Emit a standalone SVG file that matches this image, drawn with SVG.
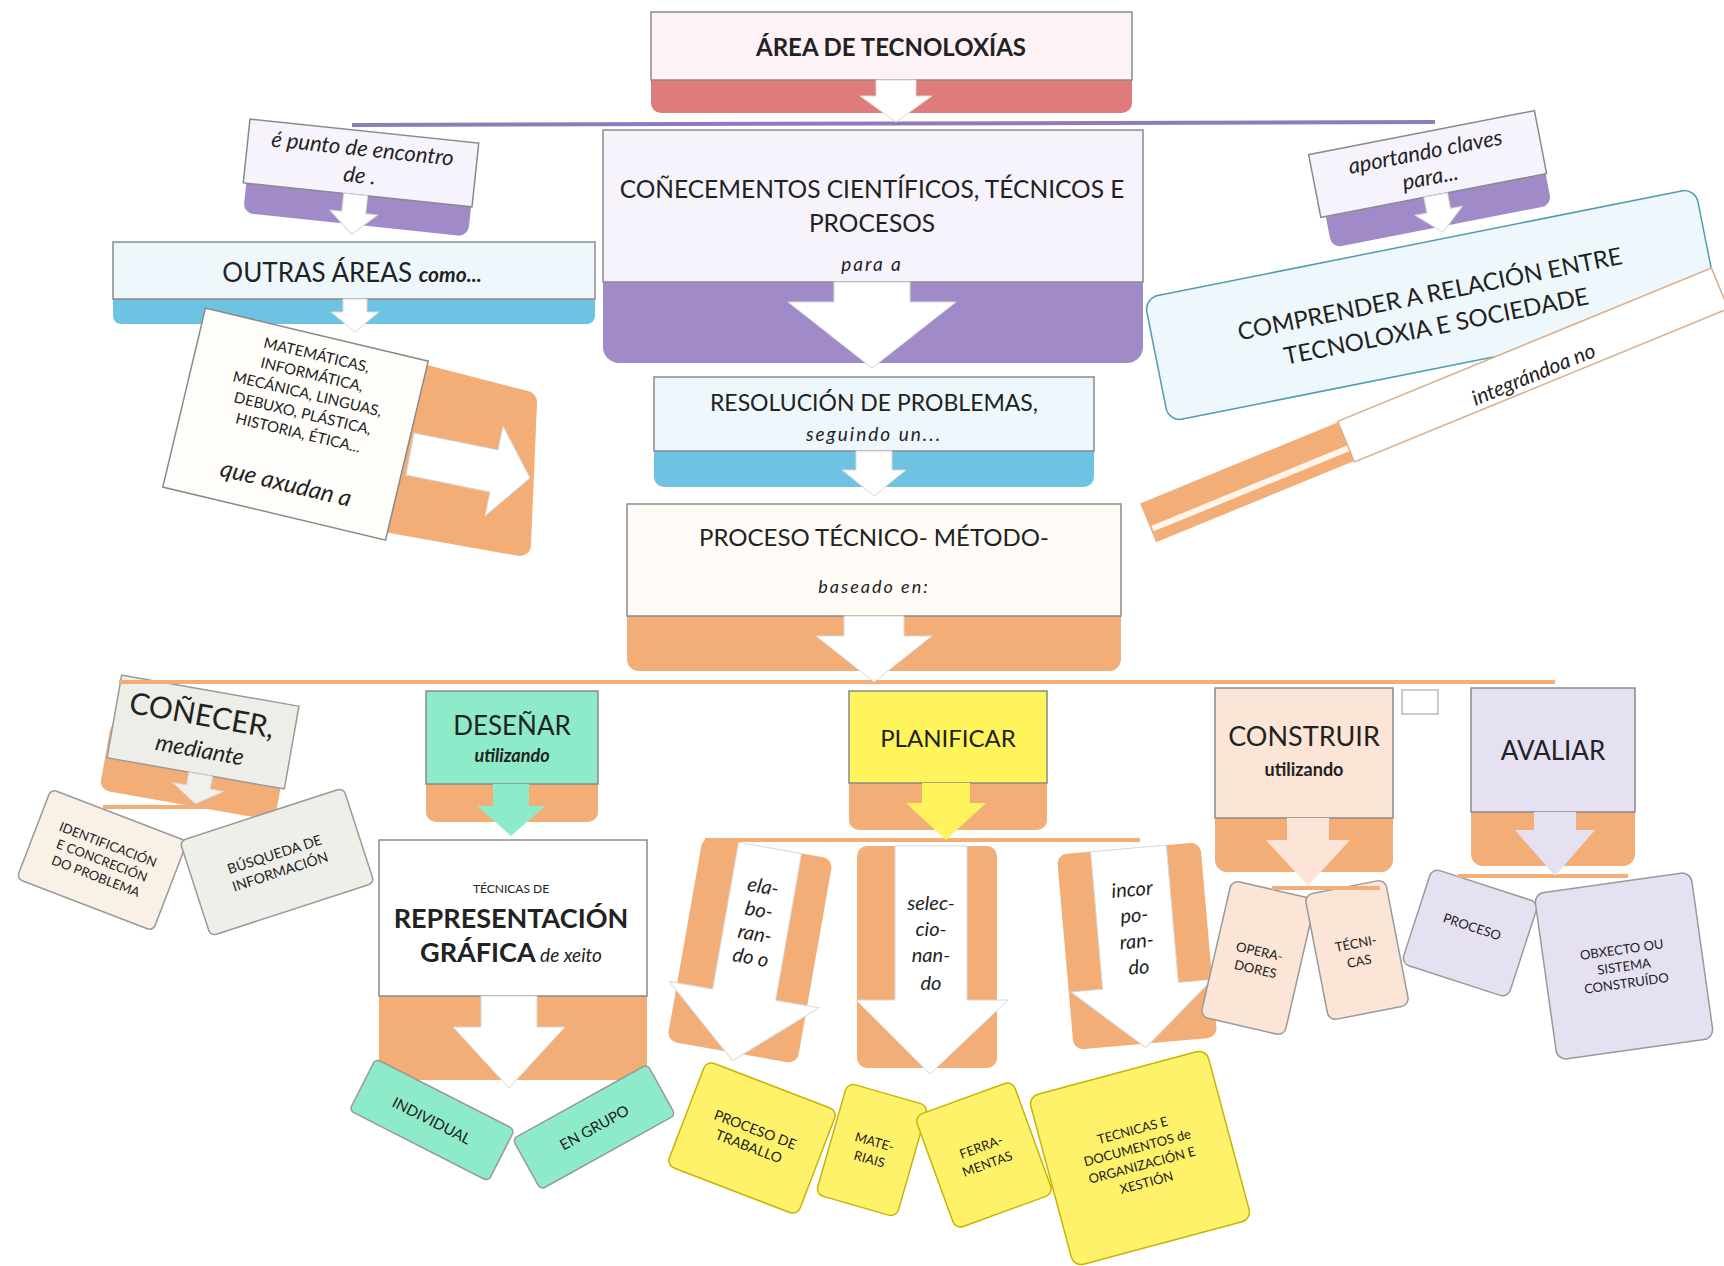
<svg xmlns="http://www.w3.org/2000/svg" width="1724" height="1266" viewBox="0 0 1724 1266">
<style>
text{font-family:Lato,"Liberation Sans",sans-serif;fill:#222;text-anchor:middle}
.i{font-style:italic}
.b{font-weight:bold}
.sp{letter-spacing:2px}
.box{stroke:#8a8a8a;stroke-width:1.5}
.or{fill:#F2AE76}
.pu{fill:#A08BC8}
.bl{fill:#6FC3E2}
.wa{fill:#FFFFFF;stroke:#d8d8d8;stroke-width:1}
.card{stroke:#9a9a9a;stroke-width:1.5}
.yc{fill:#FFF26B;stroke:#C8B400;stroke-width:1.5}
.lav{fill:#E6E0F3}
.pea{fill:#FCE4D6}
.mint{fill:#8DEBC9}
.ln{fill:none;stroke-width:4}
</style>
<rect width="1724" height="1266" fill="#FFFFFF"/>

<g id="n-area">
<rect x="651" y="66" width="481" height="47" rx="10" fill="#E07B7B"/>
<rect class="box" x="651" y="12" width="481" height="68" fill="#FDF2F6"/>
<text class="b" x="891" y="56" font-size="24">ÁREA DE TECNOLOXÍAS</text>
</g>

<g id="n-punto" transform="translate(361,163) rotate(6)">
<rect class="pu" x="-112" y="0" width="226" height="62" rx="10"/>
<rect class="box" x="-115" y="-32" width="230" height="64" fill="#F7F3FC"/>
<text class="i" x="0" y="-7" font-size="22">é punto de encontro</text>
<text class="i" x="0" y="20" font-size="22">de .</text>
</g>

<g id="n-conecementos">
<rect class="pu" x="603" y="250" width="540" height="113" rx="16"/>
<rect class="box" x="603" y="130" width="540" height="152" fill="#F7F3FC"/>
<text x="872" y="198" font-size="24.5">COÑECEMENTOS CIENTÍFICOS, TÉCNICOS E</text>
<text x="872" y="232" font-size="24.5">PROCESOS</text>
<text class="i sp" x="872" y="271" font-size="19">para a</text>
</g>

<g id="n-aportando" transform="translate(1428,166) rotate(-11)">
<rect class="pu" x="-110" y="0" width="224" height="62" rx="10"/>
<rect class="box" x="-115" y="-34" width="230" height="64" fill="#F7F3FC"/>
<text class="i" x="0" y="-7" font-size="22">aportando claves</text>
<text class="i" x="0" y="19" font-size="22">para...</text>
</g>

<g id="n-outras">
<rect class="bl" x="113" y="282" width="482" height="42" rx="8"/>
<rect class="box" x="113" y="242" width="482" height="57" fill="#EEF8FC"/>
<text x="352" y="282" font-size="26">OUTRAS ÁREAS <tspan class="i b" font-size="21">como...</tspan></text>
</g>

<g id="n-materias">
<polygon class="or" points="410,372 526,402 520,545 390,522" stroke="#F2AE76" stroke-width="22" stroke-linejoin="round"/>
<g transform="translate(295,424) rotate(13.4)">
<rect class="box" x="-114" y="-92" width="229" height="184" fill="#FFFDF9"/>
<text x="5" y="-67" font-size="15">MATEMÁTICAS,</text>
<text x="5" y="-47" font-size="15">INFORMÁTICA,</text>
<text x="5" y="-27" font-size="15">MECÁNICA, LINGUAS,</text>
<text x="5" y="-7" font-size="15">DEBUXO, PLÁSTICA,</text>
<text x="5" y="13" font-size="15">HISTORIA, ÉTICA...</text>
<text class="i" x="5" y="68" font-size="24">que axudan a</text>
</g>
</g>

<g id="n-resolucion">
<rect class="bl" x="654" y="430" width="440" height="57" rx="10"/>
<rect class="box" x="654" y="377" width="440" height="74" fill="#EEF8FC"/>
<text x="874" y="411" font-size="23">RESOLUCIÓN DE PROBLEMAS,</text>
<text class="i sp" x="874" y="441" font-size="19">seguindo un...</text>
</g>

<g id="n-proceso-tecnico">
<rect class="or" x="627" y="590" width="494" height="81" rx="12"/>
<rect class="box" x="627" y="504" width="494" height="112" fill="#FFFCF8"/>
<text x="874" y="546" font-size="24">PROCESO TÉCNICO- MÉTODO-</text>
<text class="i sp" x="874" y="593" font-size="18">baseado en:</text>
</g>

<g id="n-comprender" transform="translate(1432,305) rotate(-11.3)">
<rect x="-281" y="-63" width="562" height="126" rx="14" fill="#EEF8FC" stroke="#4F9DB0" stroke-width="1.5"/>
<text x="0" y="-3" font-size="24">COMPRENDER A RELACIÓN ENTRE</text>
<text x="0" y="30" font-size="24">TECNOLOXIA E SOCIEDADE</text>
</g>

<g id="n-integrandoa" transform="translate(1433,406) rotate(-22.3)">
<rect class="or" x="-308" y="-21" width="216" height="42"/>
<rect x="-306" y="4" width="212" height="6" fill="#FFF4EA"/>
<rect x="-94" y="-22" width="404" height="44" fill="#FFFFFF" stroke="#D9B08C" stroke-width="1.5"/>
<text class="i" x="105" y="16" font-size="21">integrándoa no</text>
</g>

<g id="n-conecer" transform="translate(203,732) rotate(10)">
<rect class="or" x="-92" y="5" width="178" height="70" rx="10"/>
<rect class="card" x="-90" y="-42" width="180" height="84" fill="#EEEEE8"/>
<text x="-4" y="-6" font-size="30">COÑECER,</text>
<text class="i" x="0" y="26" font-size="23">mediante</text>
</g>

<g id="n-identificacion" transform="translate(102,860) rotate(21)">
<rect class="card" x="-73" y="-48" width="146" height="96" rx="6" fill="#FAF1E6"/>
<text x="0" y="-12" font-size="13">IDENTIFICACIÓN</text>
<text x="0" y="5" font-size="13">E CONCRECIÓN</text>
<text x="0" y="22" font-size="13">DO PROBLEMA</text>
</g>

<g id="n-busqueda" transform="translate(277,862) rotate(-18)">
<rect class="card" x="-86" y="-50" width="172" height="100" rx="6" fill="#EFEFE9"/>
<text x="0" y="-3" font-size="14">BÚSQUEDA DE</text>
<text x="0" y="15" font-size="14">INFORMACIÓN</text>
</g>

<g id="n-desenar">
<rect class="or" x="426" y="770" width="172" height="52" rx="10"/>
<rect class="box mint" x="426" y="691" width="172" height="93"/>
<text x="512" y="735" font-size="26">DESEÑAR</text>
<text class="b i" x="512" y="762" font-size="18">utilizando</text>
</g>

<g id="n-tecnicas-rep">
<rect class="or" x="379" y="970" width="268" height="110" rx="12"/>
<rect class="box" x="379" y="840" width="268" height="156" fill="#FFFFFF"/>
<text x="511" y="893" font-size="12">TÉCNICAS DE</text>
<text class="b" x="511" y="928" font-size="27">REPRESENTACIÓN</text>
<text class="b" x="511" y="962" font-size="27">GRÁFICA<tspan class="i" font-weight="normal" font-size="19"> de xeito</tspan></text>
</g>

<g id="n-individual" transform="translate(432,1120) rotate(27)">
<rect class="card mint" x="-78" y="-29" width="156" height="58" rx="5"/>
<text x="0" y="6" font-size="15">INDIVIDUAL</text>
</g>
<g id="n-engrupo" transform="translate(594,1127) rotate(-29)">
<rect class="card mint" x="-77" y="-29" width="154" height="58" rx="5"/>
<text x="0" y="6" font-size="15">EN GRUPO</text>
</g>

<g id="n-planificar">
<rect class="or" x="849" y="770" width="198" height="60" rx="10"/>
<rect class="box" x="849" y="691" width="198" height="92" fill="#FFF45C"/>
<text x="948" y="747" font-size="24">PLANIFICAR</text>
</g>

<g id="n-elaborando" transform="translate(750,950) rotate(10)">
<rect class="or" x="-66" y="-104" width="132" height="208" rx="10"/>
<polygon class="wa" points="-30,-104 34,-104 34,45 78,45 2,112 -74,45 -30,45"/>
<text class="i" x="2" y="-58" font-size="20">ela-</text>
<text class="i" x="2" y="-34" font-size="20">bo-</text>
<text class="i" x="2" y="-10" font-size="20">ran-</text>
<text class="i" x="2" y="14" font-size="20">do o</text>
</g>

<g id="n-seleccionando">
<rect class="or" x="857" y="846" width="140" height="222" rx="10"/>
<polygon class="wa" points="895,846 967,846 967,1000 1008,1000 930,1074 856,1000 895,1000"/>
<text class="i" x="931" y="910" font-size="20">selec-</text>
<text class="i" x="931" y="936" font-size="20">cio-</text>
<text class="i" x="931" y="962" font-size="20">nan-</text>
<text class="i" x="931" y="990" font-size="20">do</text>
</g>

<g id="n-incorporando" transform="translate(1137,946) rotate(-5)">
<rect class="or" x="-72" y="-98" width="144" height="196" rx="10"/>
<polygon class="wa" points="-38,-98 38,-98 38,40 72,40 0,102 -70,40 -38,40"/>
<text class="i" x="0" y="-50" font-size="20">incor</text>
<text class="i" x="0" y="-24" font-size="20">po-</text>
<text class="i" x="0" y="2" font-size="20">ran-</text>
<text class="i" x="0" y="28" font-size="20">do</text>
</g>

<g id="n-proceso-traballo" transform="translate(752,1138) rotate(21)">
<rect class="yc" x="-70" y="-56" width="140" height="112" rx="8"/>
<text x="0" y="-4" font-size="14">PROCESO DE</text>
<text x="0" y="14" font-size="14">TRABALLO</text>
</g>
<g id="n-materiais" transform="translate(872,1150) rotate(16)">
<rect class="yc" x="-42" y="-58" width="84" height="116" rx="8"/>
<text x="0" y="-4" font-size="13">MATE-</text>
<text x="0" y="14" font-size="13">RIAIS</text>
</g>
<g id="n-ferramentas" transform="translate(984,1155) rotate(-20)">
<rect class="yc" x="-52" y="-60" width="104" height="120" rx="8"/>
<text x="0" y="-4" font-size="13">FERRA-</text>
<text x="0" y="14" font-size="13">MENTAS</text>
</g>
<g id="n-tecnicas-doc" transform="translate(1140,1158) rotate(-15)">
<rect class="yc" x="-92" y="-88" width="184" height="176" rx="10"/>
<text x="0" y="-24" font-size="13">TECNICAS E</text>
<text x="0" y="-6" font-size="13">DOCUMENTOS  de</text>
<text x="0" y="12" font-size="13">ORGANIZACIÓN E</text>
<text x="0" y="30" font-size="13">XESTIÓN</text>
</g>

<g id="n-construir">
<rect class="or" x="1215" y="800" width="178" height="72" rx="12"/>
<rect class="box pea" x="1215" y="688" width="178" height="130"/>
<text x="1304" y="746" font-size="27">CONSTRUIR</text>
<text class="b" x="1304" y="776" font-size="18">utilizando</text>
</g>
<rect id="n-blank" x="1402" y="690" width="36" height="24" fill="#FFFFFF" stroke="#bbbbbb" stroke-width="1.5"/>

<g id="n-avaliar">
<rect class="or" x="1471" y="795" width="164" height="71" rx="12"/>
<rect class="box lav" x="1471" y="688" width="164" height="124"/>
<text x="1553" y="760" font-size="26">AVALIAR</text>
</g>

<g id="n-operadores" transform="translate(1258,958) rotate(13)">
<rect class="card pea" x="-43" y="-70" width="86" height="140" rx="8"/>
<text x="0" y="-2" font-size="13">OPERA-</text>
<text x="0" y="16" font-size="13">DORES</text>
</g>
<g id="n-tecnicas-c" transform="translate(1357,950) rotate(-11)">
<rect class="card pea" x="-41" y="-64" width="82" height="128" rx="8"/>
<text x="0" y="-2" font-size="13">TÉCNI-</text>
<text x="0" y="16" font-size="13">CAS</text>
</g>
<g id="n-proceso-av" transform="translate(1470,933) rotate(18)">
<rect class="card lav" x="-56" y="-50" width="112" height="100" rx="8"/>
<text x="0" y="-2" font-size="13">PROCESO</text>
</g>
<g id="n-obxecto" transform="translate(1624,966) rotate(-8)">
<rect class="card lav" x="-79" y="-84" width="158" height="168" rx="10"/>
<text x="0" y="-12" font-size="13">OBXECTO OU</text>
<text x="0" y="5" font-size="13">SISTEMA</text>
<text x="0" y="22" font-size="13">CONSTRUÍDO</text>
</g>

<g id="connectors">
<line class="ln" x1="352" y1="125" x2="1435" y2="122" stroke="#8F7BBF" stroke-width="3"/>
<line class="ln" x1="119" y1="682" x2="1555" y2="682" stroke="#F2AE76" stroke-width="5"/>
<line class="ln" x1="103" y1="807" x2="268" y2="807" stroke="#F2AE76"/>
<line class="ln" x1="705" y1="840" x2="1140" y2="840" stroke="#F2AE76"/>
<line class="ln" x1="1272" y1="888" x2="1380" y2="888" stroke="#F2AE76"/>
<line class="ln" x1="1458" y1="876" x2="1628" y2="876" stroke="#F2AE76"/>
<polygon class="wa" points="876,80 916,80 916,96 932,96 896,122 860,96 876,96"/>
<polygon class="wa" transform="translate(361,163) rotate(6)" points="-14,32 10,32 10,50 22,50 -2,72 -26,50 -14,50"/>
<polygon class="wa" transform="translate(1428,166) rotate(-11)" points="-10,30 14,30 14,46 26,46 2,68 -22,46 -10,46"/>
<polygon class="wa" points="834,282 910,282 910,302 956,302 872,368 788,302 834,302"/>
<polygon class="wa" points="343,299 367,299 367,312 379,312 355,332 331,312 343,312"/>
<polygon class="wa" points="414,433 498,450 503,426 530,478 485,516 490,492 406,475"/>
<polygon class="wa" points="856,451 892,451 892,470 906,470 874,496 842,470 856,470"/>
<polygon class="wa" points="844,616 904,616 904,636 932,636 874,682 816,636 844,636"/>
<polygon transform="translate(203,732) rotate(10)" fill="#F0F0EC" stroke="#d8d8d8" points="-7,42 17,42 17,55 31,55 5,72 -21,55 -7,55"/>
<polygon class="mint" points="493,784 529,784 529,806 545,806 511,836 477,806 493,806"/>
<polygon class="wa" points="481,996 537,996 537,1027 565,1027 509,1088 453,1027 481,1027"/>
<polygon fill="#FFF45C" points="922,783 970,783 970,803 986,803 946,840 906,803 922,803"/>
<polygon class="pea" points="1287,818 1329,818 1329,840 1350,840 1308,886 1266,840 1287,840"/>
<polygon class="lav" points="1534,812 1576,812 1576,830 1595,830 1555,876 1515,830 1534,830"/>
</g>
</svg>
